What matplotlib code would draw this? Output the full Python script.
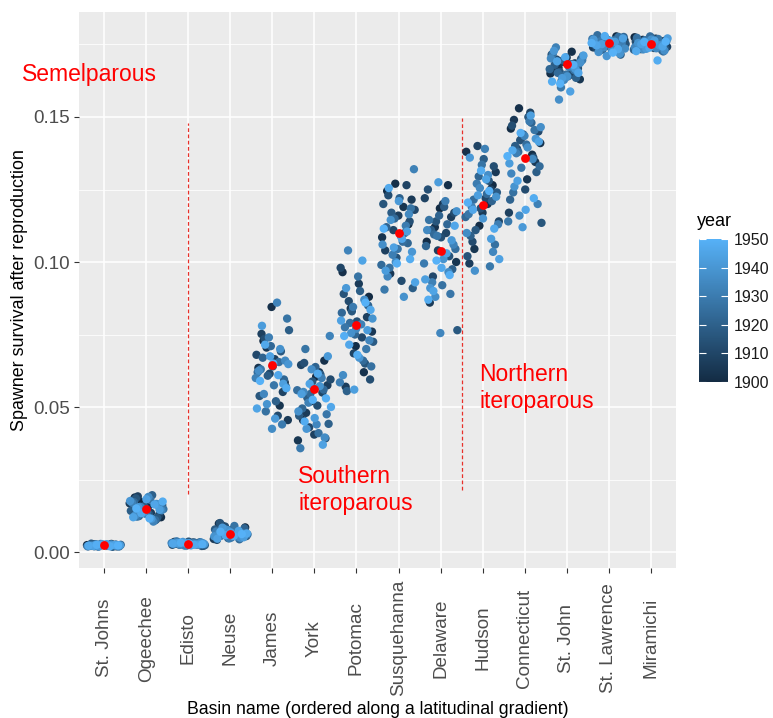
import numpy as np
import matplotlib
matplotlib.use('Agg')
import matplotlib.pyplot as plt
from matplotlib.colors import LinearSegmentedColormap, Normalize
from matplotlib.cm import ScalarMappable

plt.rcParams['font.family'] = ['Liberation Sans', 'DejaVu Sans']

basins = ["St. Johns", "Ogeechee", "Edisto", "Neuse", "James", "York", "Potomac",
          "Susquehanna", "Delaware", "Hudson", "Connecticut", "St. John",
          "St. Lawrence", "Miramichi"]
years = list(range(1900, 1951))

# survival values x 1000, listed in year order 1900..1950
st_johns = [2.4,2.2,2.6,2.0,2.5,2.3,2.8,1.9,2.1,2.4,2.7,2.2,2.5,2.0,2.3,2.6,2.1,2.4,2.9,1.8,
            2.2,2.5,2.3,2.0,2.6,2.4,2.1,2.7,2.3,1.9,2.5,2.2,2.4,2.8,2.0,2.3,2.6,2.1,2.4,2.2,
            2.5,1.9,2.3,2.7,2.1,2.4,2.6,2.2,2.0,2.5,2.3]
ogeechee = [17.5,12.0,15.5,18.8,11.2,14.0,16.8,13.5,19.2,12.8,15.0,17.8,10.8,14.5,16.2,13.0,
            18.5,11.8,15.8,14.2,19.6,12.4,16.5,13.8,17.2,11.0,15.2,14.8,18.0,12.2,16.0,13.2,
            17.0,10.5,15.6,14.4,19.0,12.6,16.6,13.6,17.6,11.5,15.4,14.6,18.2,12.0,16.4,13.4,
            17.4,11.6,15.0]
edisto = [3.2,2.6,3.0,2.4,3.5,2.8,3.1,2.2,2.9,3.4,2.7,3.0,2.5,3.3,2.8,2.1,3.6,2.9,2.6,3.1,
          2.4,3.0,2.7,3.4,2.3,2.9,3.2,2.6,3.0,2.5,3.7,2.8,2.2,3.1,2.9,2.6,3.3,2.4,3.0,2.7,
          3.5,2.8,2.3,3.1,2.6,3.0,2.9,2.5,3.2,2.7,3.0]
neuse = [8.5,6.0,9.8,5.2,7.0,4.5,6.8,9.2,5.8,7.5,4.2,6.4,8.8,5.5,7.2,10.0,6.2,4.8,7.8,5.9,
         6.6,8.2,5.0,6.9,4.4,7.4,6.1,9.0,5.6,6.5,4.7,7.1,5.3,8.0,6.3,5.7,6.7,4.9,7.6,5.4,
         6.0,8.4,5.1,6.8,4.6,7.3,5.8,6.4,5.5,7.0,6.2]
james = [72.8,58.5,84.5,63.5,50.5,70.5,45.5,66.5,75.2,55.2,61.5,68.0,47.0,73.5,57.0,64.0,
         53.8,69.2,60.8,76.5,52.0,67.0,59.5,71.0,62.0,
         65.5,48.5,80.5,57.5,63.0,44.0,74.0,60.0,86.0,54.5,66.0,42.5,62.5,70.0,51.0,64.8,
         46.0,78.0,58.0,67.5,49.5,61.0,71.5,56.5,65.0,59.0]
york = [60.5,45.5,66.0,52.0,38.5,62.0,48.0,57.5,40.5,64.5,55.0,43.0,59.5,50.5,65.2,39.2,
        58.8,47.0,61.2,53.2,44.2,63.8,49.5,56.0,54.5,
        55.8,41.0,70.0,47.5,56.5,35.8,60.0,51.5,74.5,44.0,55.2,39.5,63.0,48.5,57.2,42.5,
        67.5,46.2,54.5,37.0,58.0,50.0,61.5,45.0,53.0,52.5]
potomac = [88.0,71.0,96.5,62.0,84.0,76.0,92.5,57.0,81.0,68.5,98.0,74.0,86.5,59.5,79.5,89.0,
           65.0,83.0,72.5,90.0,55.5,85.0,75.0,82.5,66.0,
           79.0,64.0,95.0,77.5,70.0,84.5,58.5,78.5,104.0,73.0,77.0,61.0,87.0,75.5,80.5,67.0,
           91.0,76.5,56.0,79.8,100.5,71.5,83.5,68.0,74.5,86.0]
susquehanna = [124.5,113.0,127.0,108.5,119.0,96.0,121.5,116.0,104.0,126.5,111.0,118.0,93.5,
               123.0,114.0,101.5,120.0,110.0,117.0,91.0,122.0,112.0,106.5,115.0,99.0,
               107.0,98.0,118.5,104.5,90.5,112.5,102.5,132.0,109.0,95.0,116.5,100.0,106.0,
               88.0,114.5,103.5,121.0,97.0,110.5,105.0,93.0,108.0,125.5,101.0,99.5,111.5]
delaware = [118.5,107.0,126.5,112.0,100.0,120.0,86.0,115.5,104.0,122.0,110.0,95.0,117.0,
            108.5,125.0,102.0,114.0,76.5,119.0,111.0,97.5,116.0,105.5,113.0,109.5,
            104.5,92.0,114.5,89.0,109.0,99.5,121.0,93.0,106.0,75.5,111.0,96.5,88.0,117.5,
            101.0,91.0,107.5,127.5,94.0,103.0,90.0,112.5,98.0,87.0,95.5,100.5]
hudson = [126.5,112.5,138.0,120.0,104.5,131.0,117.0,99.5,125.0,140.0,114.0,122.0,107.0,
          133.0,118.5,102.0,128.0,111.0,124.0,135.5,109.0,121.0,129.5,115.5,123.5,
          121.5,106.0,133.5,116.5,98.5,127.0,113.0,139.0,119.0,103.5,125.5,110.0,130.0,
          97.0,122.5,115.0,136.0,108.0,123.0,101.0,128.5,118.0,111.5,131.5,120.5,124.5]
connecticut = [146.0,137.0,153.0,141.0,128.5,149.0,134.5,143.0,117.0,151.5,139.0,145.0,
               125.0,147.0,136.0,142.0,113.5,150.0,140.0,131.0,144.0,121.5,148.0,138.0,133.0,
               140.5,124.0,145.5,132.5,114.0,148.5,137.5,120.0,143.5,130.5,135.5,116.0,146.5,
               139.5,126.0,142.5,112.0,134.0,150.5,128.0,141.5,118.0,138.5,122.0,144.5,136.5]
st_john = [169.0,165.0,172.5,167.0,163.0,170.5,166.0,168.5,162.5,171.0,164.5,169.8,166.8,
           163.8,171.5,167.5,165.5,170.0,164.0,168.0,163.5,169.5,166.5,168.2,165.2,
           168.4,164.6,171.8,166.2,160.2,169.6,167.2,174.0,165.8,162.8,170.2,167.6,156.0,
           168.8,164.0,172.8,166.6,163.4,171.2,158.8,169.2,165.2,170.6,162.2,168.0,161.5]
st_lawrence = [177.8,177.0,176.5,176.0,175.5,175.0,174.5,174.0,173.5,176.8,175.8,174.8,173.8,
               177.4,176.2,175.2,174.2,172.8,171.5,176.6,175.4,174.6,173.2,177.6,175.6,
               178.2,177.6,177.2,176.9,176.4,176.1,175.7,175.3,174.9,174.4,174.0,173.6,173.0,
               172.4,171.8,171.0,176.7,175.9,175.1,177.1,176.3,174.7,173.4,177.9,175.5,172.2]
miramichi = [177.5,177.0,176.6,176.2,175.8,175.4,175.0,174.6,174.2,173.8,173.4,173.0,176.8,
             176.0,175.2,174.4,173.6,177.2,175.6,174.8,174.0,173.2,176.4,175.9,172.6,
             177.8,177.3,176.9,176.5,176.1,175.7,175.3,174.9,174.5,174.1,173.7,173.3,172.9,
             176.7,175.5,174.7,173.5,177.1,176.3,175.1,174.3,173.9,172.7,169.5,175.9,176.0]

survival = [st_johns, ogeechee, edisto, neuse, james, york, potomac, susquehanna,
            delaware, hudson, connecticut, st_john, st_lawrence, miramichi]
basin_means = [2.4, 14.8, 2.8, 6.2, 64.5, 56.2, 78.3, 110.0, 103.8, 119.7, 135.9,
               168.3, 175.5, 175.2]

yticks = [0.0, 0.05, 0.10, 0.15]
ytick_labels = ["0.00", "0.05", "0.10", "0.15"]
cbar_ticks = [1900, 1910, 1920, 1930, 1940, 1950]

W, H = 773, 718
fig = plt.figure(figsize=(W / 100, H / 100), dpi=100)
ax = fig.add_axes([79 / W, 1 - 568 / H, 597 / W, 556 / H])
ax.set_facecolor('#EBEBEB')

cmap = LinearSegmentedColormap.from_list('gg', ['#132B43', '#56B1F7'])
norm = Normalize(1900, 1950)
phi = 0.6180339887
for k, vals in enumerate(survival):
    n = len(vals)
    off = (((np.arange(n) * phi + k * 0.31) % 1.0) - 0.5) * 0.82
    ax.scatter(k + 1 + off, np.array(vals) / 1000.0, c=years[:n], cmap=cmap, norm=norm,
               s=36, linewidths=0, zorder=3)
ax.scatter(np.arange(1, len(basins) + 1), np.array(basin_means) / 1000.0, color='#FF0000',
           s=40, linewidths=0, zorder=4)

ax.set_xlim(0.4, len(basins) + 0.6)
ax.set_ylim(-0.0055, 0.1862)
ax.set_xticks(np.arange(1, len(basins) + 1))
ax.set_xticklabels(basins, rotation=90, fontsize=13.6, color='#4D4D4D', va='center')
ax.set_yticks(yticks)
ax.set_yticklabels(ytick_labels, fontsize=13.6, color='#4D4D4D')
ax.set_yticks([0.025, 0.075, 0.125, 0.175], minor=True)
ax.tick_params(axis='both', which='major', length=3.5, width=0.8, color='#333333', pad=3)
ax.tick_params(axis='x', which='major', pad=47)
ax.tick_params(axis='y', which='minor', length=0)
ax.grid(True, which='major', color='white', linewidth=1.1, zorder=0)
ax.grid(True, which='minor', axis='y', color='white', linewidth=0.55, zorder=0)
ax.set_axisbelow(True)
for s in ax.spines.values():
    s.set_visible(False)

ax.set_xlabel('Basin name (ordered along a latitudinal gradient)', fontsize=12.7,
              color='black')
ax.xaxis.set_label_coords(0.5, (568 - 710) / 556)
ax.xaxis.label.set_va('center')
ax.set_ylabel('Spawner survival after reproduction', fontsize=12.9, color='black')
ax.yaxis.set_label_coords((20 - 79) / 597, 0.5)
ax.yaxis.label.set_va('center')

# dashed separators
ax.vlines(3, 0.020, 0.148, colors='#E8302A', linestyles=(0, (3, 2)), linewidth=0.9, zorder=2)
ax.vlines(9.5, 0.0215, 0.1497, colors='#E8302A', linestyles=(0, (3, 2)), linewidth=0.9, zorder=2)

ax.text(5.62, 0.0214, 'Southern\niteroparous', color='#FF0000', fontsize=16.5,
        ha='left', va='center', linespacing=1.2, zorder=5)
ax.text(9.92, 0.0566, 'Northern\niteroparous', color='#FF0000', fontsize=16.5,
        ha='left', va='center', linespacing=1.2, zorder=5)
fig.text(22 / W, 1 - 75 / H, 'Semelparous', color='#FF0000', fontsize=16.5,
         ha='left', va='center')

# colour bar legend
cax = fig.add_axes([699 / W, 1 - 382 / H, 29 / W, 143 / H])
sm = ScalarMappable(norm=norm, cmap=cmap)
cb = fig.colorbar(sm, cax=cax, ticks=cbar_ticks)
cb.outline.set_visible(False)
cb.ax.tick_params(direction='in', color='white', length=5, width=0.8, labelsize=11.5,
                  pad=4, left=True, labelcolor='#1A1A1A')
fig.text(697 / W, 1 - 222 / H, 'year', fontsize=13, ha='left', va='center')

fig.savefig('out.png', dpi=100)
